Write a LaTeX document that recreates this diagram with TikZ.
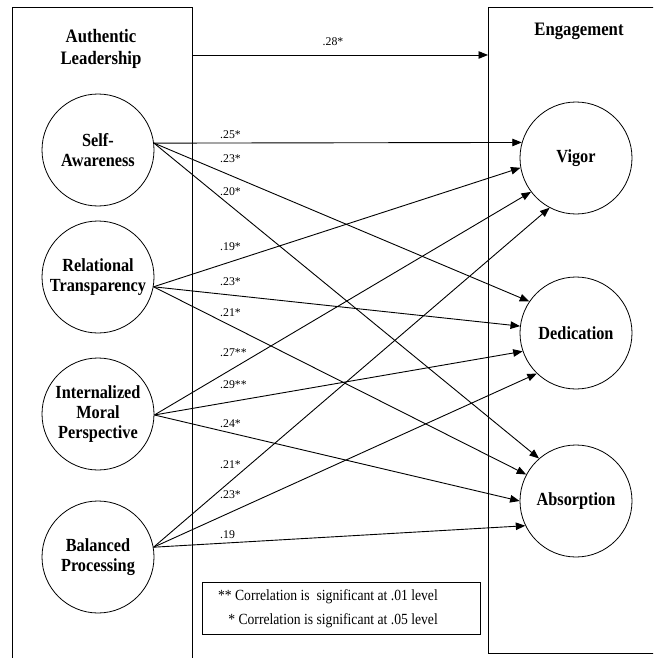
\documentclass[tikz,border=0pt]{standalone}
\usepackage{fontspec}
\setmainfont{Liberation Serif}
\newfontfamily\condf{Liberation Serif}[FakeStretch=0.88]
\usetikzlibrary{arrows.meta,calc}
\begin{document}
\begin{tikzpicture}[x=1pt,y=-1pt,
  boxframe/.style={draw, line width=1.2pt, rectangle, inner sep=0pt, anchor=north west},
  circ/.style={draw, circle, line width=0.8pt, minimum size=112pt, inner sep=0pt},
  ctext/.style={font=\condf\bfseries\fontsize{18.5}{20}\selectfont, align=center, inner sep=0pt},
  ttext/.style={font=\condf\bfseries\fontsize{19}{22}\selectfont, align=center, inner sep=0pt},
  coef/.style={font=\fontsize{11.8}{13}\selectfont, anchor=west, inner sep=0pt},
  arr/.style={-{Triangle[length=9.5pt,width=7.5pt]}, line width=0.9pt},
]
\useasboundingbox (0,0) rectangle (653,658);
\clip (0,0) rectangle (653,658);
% frames
\node[boxframe, minimum width=180.5pt, minimum height=700pt] (ALbox) at (11.7,7) {};
\node[boxframe, minimum width=200pt, minimum height=646pt] (EGbox) at (488,7) {};
% titles
\node[ttext] (ALt) at (101,49) {Authentic\\Leadership};
\node[ttext] (EGt) at (579,31) {Engagement};
% left circles
\node[circ, label={[ctext]center:Self-\\Awareness}] (SA) at (98,150) {};
\node[circ, label={[ctext]center:Relational\\Transparency}] (RT) at (98,277) {};
\node[circ, label={[ctext]center:Internalized\\Moral\\Perspective}] (IM) at (98,414) {};
\node[circ, label={[ctext]center:Balanced\\Processing}] (BP) at (98,557) {};
% right circles
\node[circ, label={[ctext]center:Vigor}] (VI) at (576,158) {};
\node[circ, label={[ctext]center:Dedication}] (DE) at (576,333) {};
\node[circ, label={[ctext]center:Absorption}] (AB) at (576,501) {};
% top arrow
\draw[arr] (ALbox.east |- 0,55) -- (EGbox.west |- 0,55);
\node[coef, anchor=center] (c0) at (333,42) {.28*};
% edges
\draw[arr] (SA.7) -- (VI.164.5);
\draw[arr] (SA.7) -- (DE.146);
\draw[arr] (SA.7) -- (AB.131);
\draw[arr] (RT.-10) -- (VI.190);
\draw[arr] (RT.-10) -- (DE.173);
\draw[arr] (RT.-10) -- (AB.152);
\draw[arr] (IM.-1) -- (VI.217);
\draw[arr] (IM.-1) -- (DE.199);
\draw[arr] (IM.-1) -- (AB.180);
\draw[arr] (BP.10) -- (VI.242);
\draw[arr] (BP.10) -- (DE.226);
\draw[arr] (BP.10) -- (AB.206);
% coefficients
\node[coef] (c1) at (220,135) {.25*};
\node[coef] (c2) at (220,159) {.23*};
\node[coef] (c3) at (220,192) {.20*};
\node[coef] (c4) at (220,247) {.19*};
\node[coef] (c5) at (220,282) {.23*};
\node[coef] (c6) at (220,313) {.21*};
\node[coef] (c7) at (220,353) {.27**};
\node[coef] (c8) at (220,385) {.29**};
\node[coef] (c9) at (220,424) {.24*};
\node[coef] (c10) at (220,465) {.21*};
\node[coef] (c11) at (220,495) {.23*};
\node[coef] (c12) at (220,535) {.19};
% legend
\node[draw, line width=1pt, anchor=north west, minimum width=278pt, minimum height=52pt, inner sep=0pt] (LG) at (202,582) {};
\node[font=\condf\fontsize{15.5}{24}\selectfont, align=right, anchor=east, inner sep=0pt] (LGt) at ($(LG.east)+(-43,0)$) {** Correlation is\ \ significant at .01 level\\{}* Correlation is significant at .05 level};
\end{tikzpicture}
\end{document}
